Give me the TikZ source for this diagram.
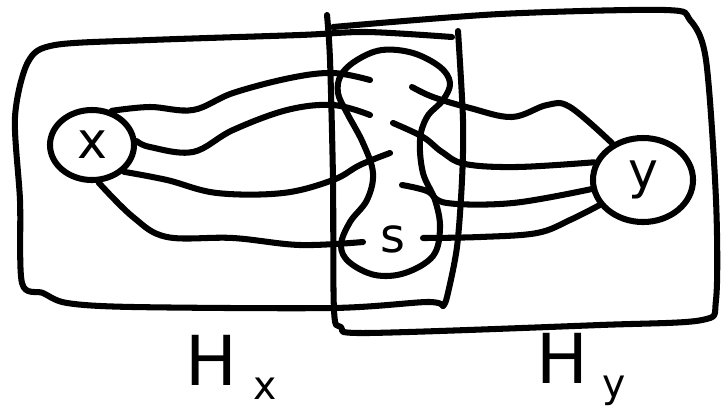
\documentclass[tikz,border=0pt]{standalone}
\usepackage{fontspec}
\setmainfont{DejaVu Sans}
\usetikzlibrary{shapes.geometric}

\tikzset{
  pen/.style={line width=4.3pt, line cap=round, line join=round},
  vertex/.style={draw, pen, ellipse, inner sep=0pt, font=\fontsize{36}{36}\selectfont},
  halflabel/.style={anchor=base west, inner sep=0pt, font=\fontsize{49}{49}\selectfont},
}
\newcommand{\hlabel}[2]{H\kern#2\raisebox{-10pt}{\fontsize{28}{28}\selectfont #1}}

\begin{document}
\begin{tikzpicture}[x=0.025cm, y=-0.025cm]
    \useasboundingbox (0,0) rectangle (723,416);

    % the two sides H_x and H_y
    \draw[pen] plot[smooth, tension=0.5] coordinates {(452,37) (367,32) (300,35) (150,40) (55,45) (28,62) (15,117) (20,200) (22,283) (43,293) (67,303) (133,307) (333,308) (427,302) (443,306)};
    \draw[pen] plot[smooth, tension=0.5] coordinates {(458,31) (463,120) (462,180) (457,247) (447,297) (443,306)};
    \draw[pen] plot[smooth, tension=0.5] coordinates {(333,27) (500,14) (665,10) (690,20) (706,60) (716,200) (716,300) (702,320) (600,325) (367,333) (341,327) (334,310) (333,180) (330,60) (327,15)};

    % separator s
    \draw[pen] plot[smooth cycle, tension=0.6] coordinates {(382,50) (413,53) (440,67) (450,83) (443,100) (427,117) (420,140) (423,173) (435,200) (440,228) (433,256) (405,273) (375,275) (349,262) (341,245) (350,222) (367,200) (373,173) (363,143) (347,113) (338,93) (341,75) (357,60)};

    \node[vertex, minimum width=2.1cm, minimum height=1.75cm] (x) at (92,145) {x};
    \node[vertex, minimum width=2.5cm, minimum height=2.1cm] (y) at (643,180) {y};
    \node[inner sep=0pt, font=\fontsize{34}{34}\selectfont] (s) at (393,239) {s};

    \coordinate (a1) at (370,80);
    \coordinate (b1) at (412,87);
    \coordinate (a2) at (370,115);
    \coordinate (b2) at (393,123);
    \coordinate (a3) at (390,153);
    \coordinate (b3) at (402,185);
    \coordinate (a4) at (363,242);
    \coordinate (b4) at (423,238);

    % paths from x to s
    \draw[pen] plot[smooth, tension=0.6] coordinates {(x.60) (150,107) (193,110) (233,93) (290,78) (333,73) (a1)};
    \draw[pen] plot[smooth, tension=0.6] coordinates {(x.5) (150,147) (193,152) (233,130) (287,110) (333,105) (a2)};
    \draw[pen] plot[smooth, tension=0.6] coordinates {(x.-40) (167,180) (217,193) (283,193) (333,180) (360,165) (a3)};
    \draw[pen] plot[smooth, tension=0.6] coordinates {(x.-80) (133,217) (167,237) (233,238) (300,245) (a4)};

    % paths from s to y
    \draw[pen] plot[smooth, tension=0.6] coordinates {(b1) (433,97) (470,108) (512,117) (547,105) (570,107) (y.130)};
    \draw[pen] plot[smooth, tension=0.6] coordinates {(b2) (423,137) (442,152) (465,164) (517,167) (y.160)};
    \draw[pen] plot[smooth, tension=0.6] coordinates {(b3) (427,191) (447,203) (513,203) (y.190)};
    \draw[pen] plot[smooth, tension=0.6] coordinates {(b4) (480,237) (537,233) (570,220) (y.-150)};

    \node[halflabel] (hx) at (185,385) {\hlabel{x}{12pt}};
    \node[halflabel] (hy) at (536,383) {\hlabel{y}{10pt}};
\end{tikzpicture}
\end{document}
